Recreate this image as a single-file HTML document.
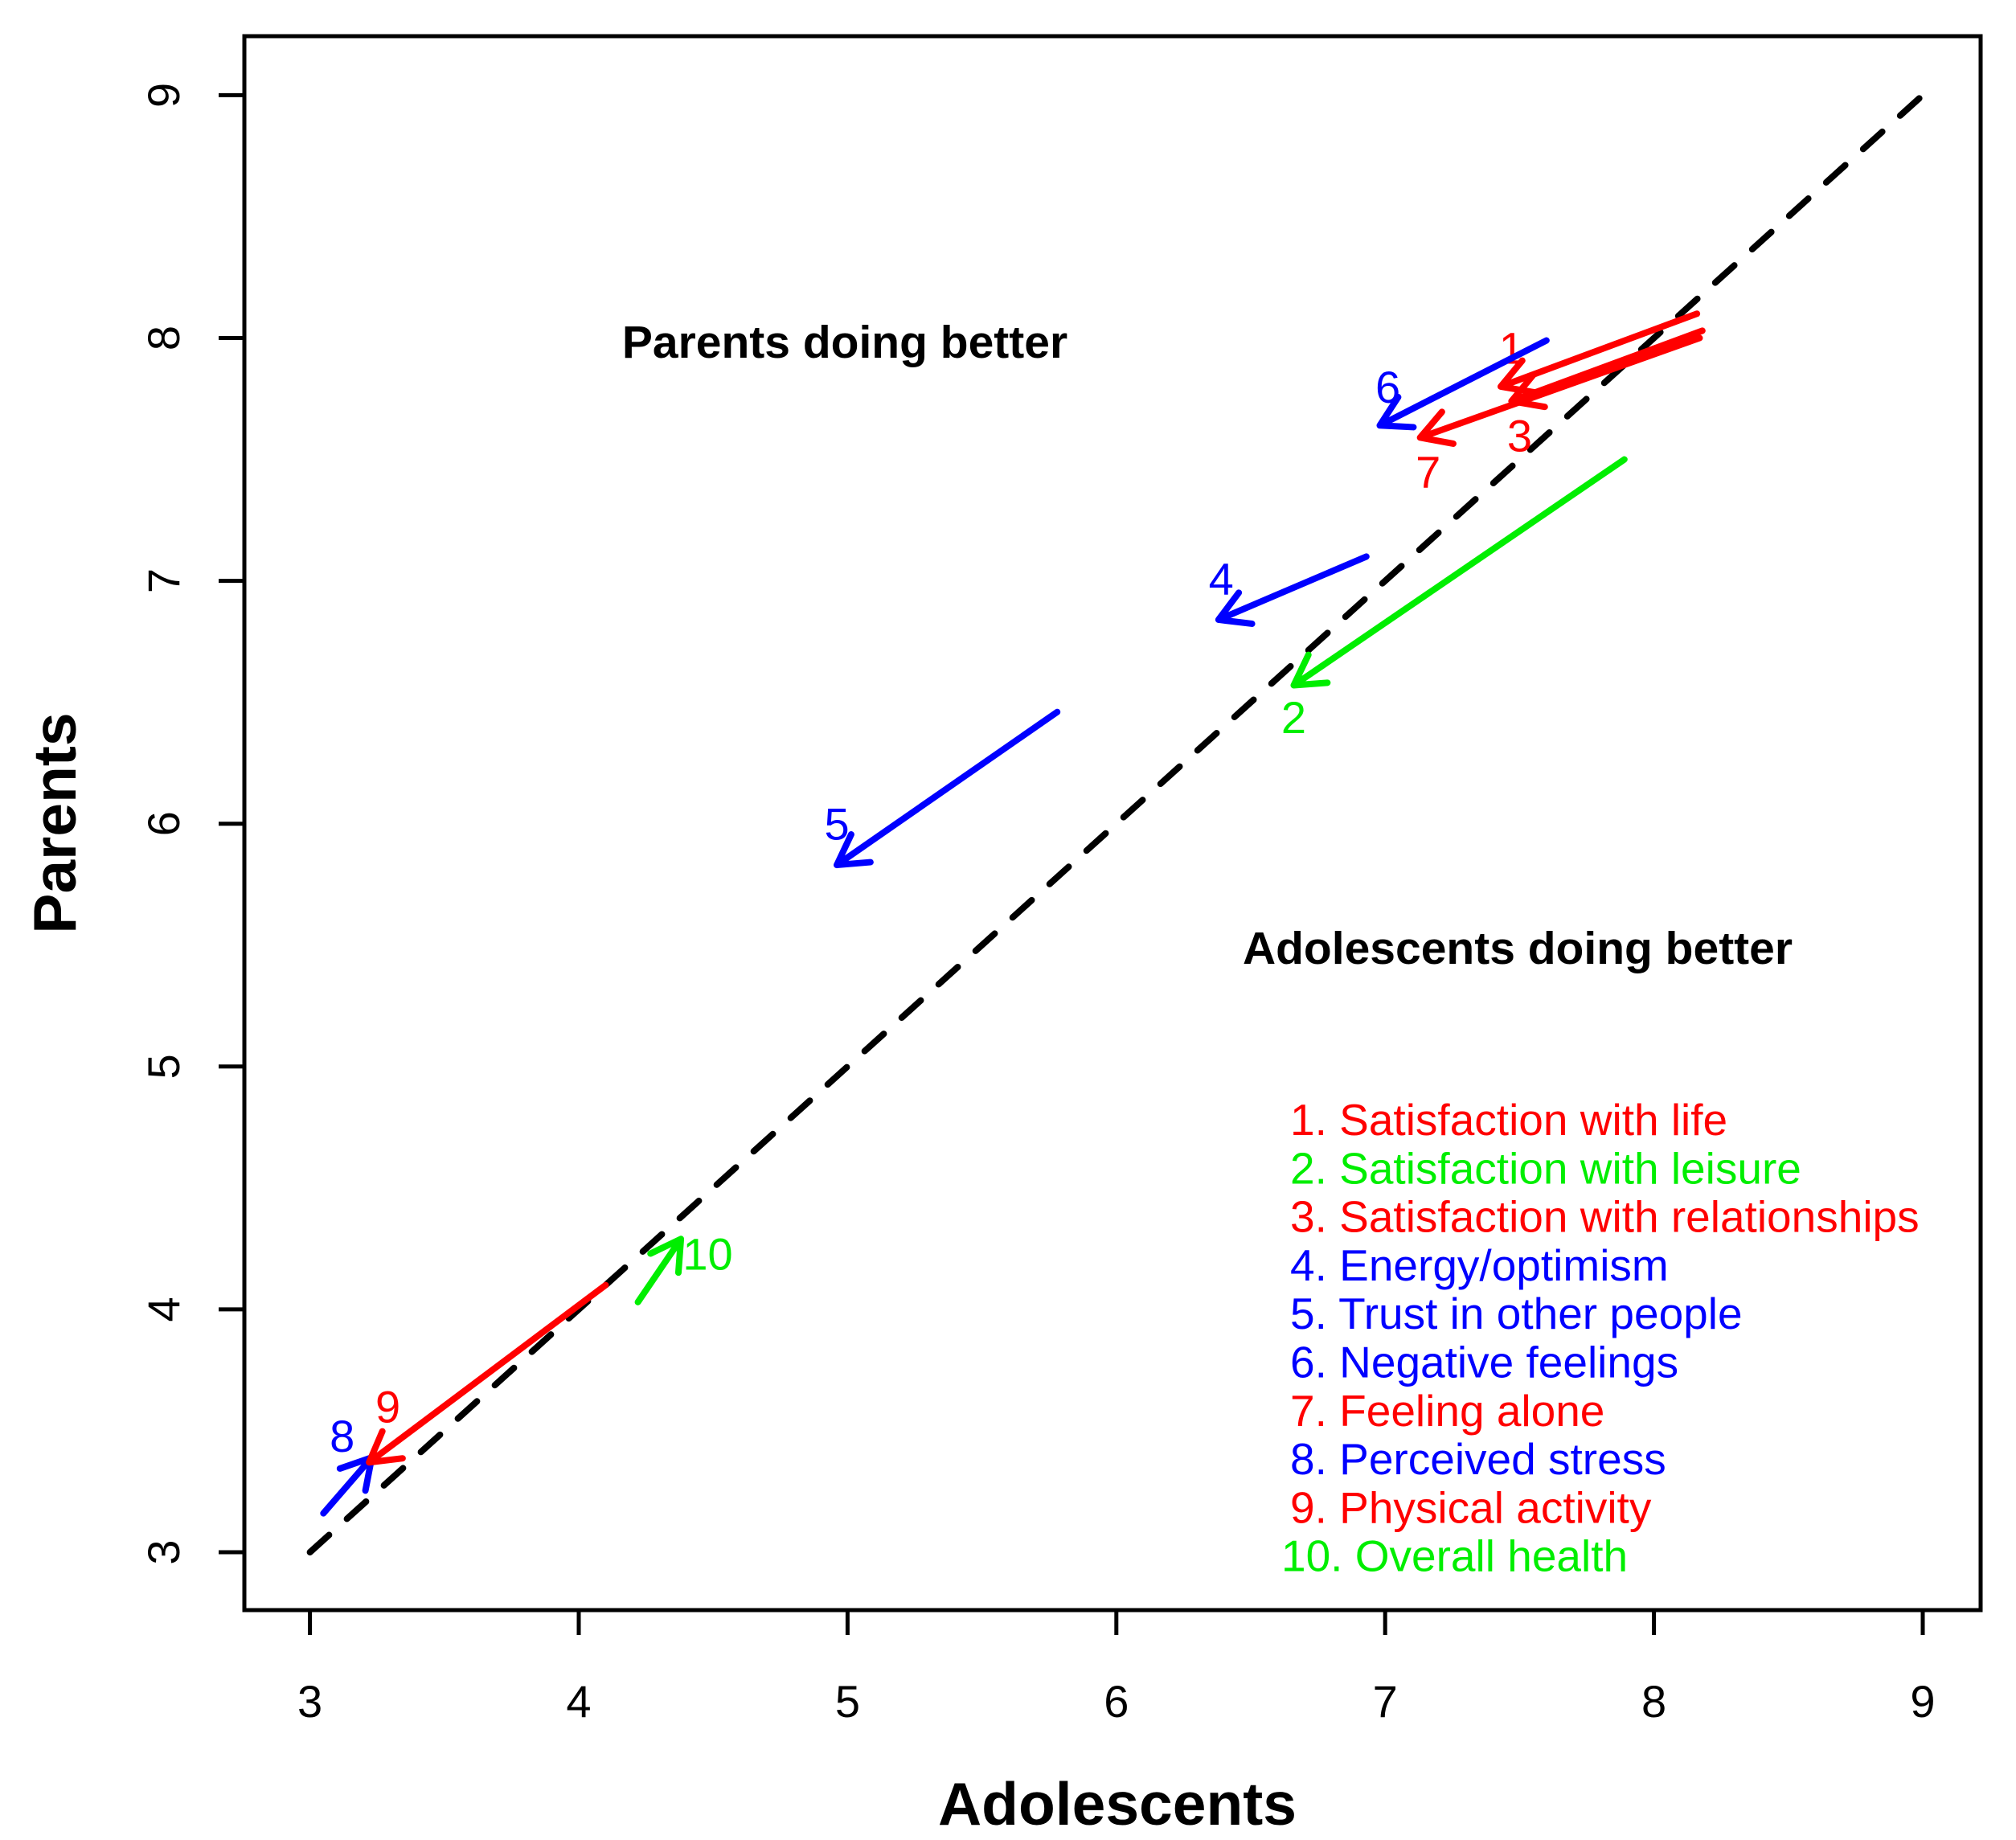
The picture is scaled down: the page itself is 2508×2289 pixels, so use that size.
<!DOCTYPE html>
<html><head><meta charset="utf-8"><style>
html,body{margin:0;padding:0;background:#fff;}
svg{display:block;font-family:"Liberation Sans",Arial,sans-serif;}
</style></head><body>
<svg id="chart" width="2508" height="2289" viewBox="0 0 2508 2289" xmlns="http://www.w3.org/2000/svg">
<rect x="0" y="0" width="2508" height="2289" fill="#fff"/>
<rect x="304" y="45" width="2160" height="1958" fill="none" stroke="#000" stroke-width="5"/>
<g id="axes"></g>
<g id="marks"></g>
<text x="1390" y="2270" font-size="75" font-weight="bold" text-anchor="middle">Adolescents</text>
<text x="0" y="0" font-size="75" font-weight="bold" text-anchor="middle" transform="translate(94,1024) rotate(-90)">Parents</text>
<text x="1051" y="445" font-size="57" font-weight="bold" text-anchor="middle">Parents doing better</text>
<text x="1888" y="1199" font-size="57" font-weight="bold" text-anchor="middle">Adolescents doing better</text>
<g id="legend"></g>
</svg>
<script>
const xTicks = [3,4,5,6,7,8,9];
const yTicks = [3,4,5,6,7,8,9];
const itemIds = ["1","2","3","4","5","6","7","8","9","10"];
const itemNames = ["Satisfaction with life","Satisfaction with leisure","Satisfaction with relationships","Energy/optimism","Trust in other people","Negative feelings","Feeling alone","Perceived stress","Physical activity","Overall health"];
const itemColors = ["#ff0000","#00ee00","#ff0000","#0000ff","#0000ff","#0000ff","#ff0000","#0000ff","#ff0000","#00ee00"];
const adolStart = [8.16,7.89,8.18,6.93,5.78,7.60,8.17,3.05,4.10,4.22];
const parStart  = [8.10,7.50,8.03,7.10,6.46,7.99,8.00,3.16,4.10,4.03];
const adolEnd   = [7.43,6.66,7.47,6.38,4.96,6.98,7.13,3.23,3.22,4.38];
const parEnd    = [7.80,6.57,7.74,6.84,5.83,7.64,7.59,3.39,3.37,4.29];
const labelX    = [7.47,6.66,7.50,6.39,4.96,7.01,7.16,3.12,3.29,4.48];
const labelY    = [7.96,6.44,7.60,7.01,6.00,7.80,7.45,3.48,3.60,4.23];

const NS="http://www.w3.org/2000/svg";
const xs = v => 385.6 + (v-3)*334.4;
const ys = v => 1931 - (v-3)*302.1;
function mk(tag, attrs, parent){const e=document.createElementNS(NS,tag);for(const k in attrs)e.setAttribute(k,attrs[k]);parent.appendChild(e);return e;}
const axes=document.getElementById('axes'), marks=document.getElementById('marks'), legend=document.getElementById('legend');

xTicks.forEach(t=>{
  const l=mk('line',{x1:xs(t),x2:xs(t),y1:2003,y2:2034,stroke:'#000','stroke-width':5},axes);
  
  
  const tx=mk('text',{x:xs(t),y:2136,'font-size':56,'text-anchor':'middle'},axes);
  tx.textContent=t;
  
  
});
yTicks.forEach(t=>{
  const l=mk('line',{x1:272,x2:304,y1:ys(t),y2:ys(t),stroke:'#000','stroke-width':5},axes);
  
  
  const tx=mk('text',{x:0,y:0,'font-size':56,'text-anchor':'middle',transform:`translate(223,${ys(t)}) rotate(-90)`},axes);
  tx.textContent=t;
  
  
});

const diag=mk('line',{x1:xs(3),y1:ys(3),x2:xs(9),y2:ys(9),stroke:'#000','stroke-width':8,'stroke-dasharray':'32 30','stroke-linecap':'round'},marks);



itemIds.forEach((id,i)=>{
  const x1=xs(adolStart[i]),y1=ys(parStart[i]),x2=xs(adolEnd[i]),y2=ys(parEnd[i]);
  const ang=Math.atan2(y2-y1,x2-x1), L=42, a=Math.PI/6;
  const hx1=x2-L*Math.cos(ang-a), hy1=y2-L*Math.sin(ang-a);
  const hx2=x2-L*Math.cos(ang+a), hy2=y2-L*Math.sin(ang+a);
  const p=mk('path',{d:`M${x1},${y1}L${x2},${y2}M${hx1},${hy1}L${x2},${y2}L${hx2},${hy2}`,fill:'none',stroke:itemColors[i],'stroke-width':8,'stroke-linecap':'round','stroke-linejoin':'round'},marks);
  
  
  const t=mk('text',{x:xs(labelX[i]),y:ys(labelY[i])+20,'font-size':56,fill:itemColors[i],'text-anchor':'middle'},marks);
  t.textContent=id;
  
  
  const lt=mk('text',{x:id==='10'?1594:1605,y:1412+i*60.3,'font-size':55,fill:itemColors[i]},legend);
  lt.textContent=id+". "+itemNames[i];
  
  
});
</script>
</body></html>
